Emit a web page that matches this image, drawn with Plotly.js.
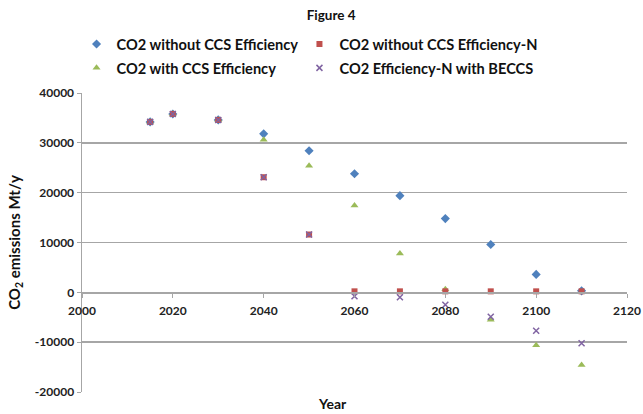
<!DOCTYPE html>
<html><head><meta charset="utf-8">
<script src="https://cdn.plot.ly/plotly-3.0.1.min.js"></script>
<style>html,body{margin:0;padding:0;background:#fff;}#chart{width:643px;height:414px;}</style>
</head><body><div id="chart"></div>
<script>
const years = [2015, 2020, 2030, 2040, 2050, 2060, 2070, 2080, 2090, 2100, 2110];
const co2NoCCS = [34200, 35800, 34600, 31800, 28400, 23800, 19400, 14800, 9600, 3600, 300];
const co2NoCCSN = [34200, 35800, 34600, 23100, 11600, 200, 200, 200, 200, 200, 200];
const co2WithCCS = [34200, 35800, 34600, 30600, 25400, 17400, 7800, 600, -5500, -10600, -14600];
const co2BECCS = [34200, 35800, 34600, 23100, 11600, -800, -1000, -2500, -4900, -7700, -10200];
const seriesNames = ["CO2 without CCS Efficiency", "CO2 without CCS Efficiency-N", "CO2 with CCS Efficiency", "CO2 Efficiency-N with BECCS"];
const xTicks = [2000, 2020, 2040, 2060, 2080, 2100, 2120];
const yTicks = [-20000, -10000, 0, 10000, 20000, 30000, 40000];

const F = "Lato, 'Open Sans', sans-serif";
const traces = [
  {x: years, y: co2NoCCS, name: seriesNames[0], mode: "markers", type: "scatter", legend: "legend",
   marker: {symbol: "diamond", color: "#4F81BD", size: 7}},
  {x: years, y: co2WithCCS, name: seriesNames[2], mode: "markers", type: "scatter", legend: "legend3",
   marker: {symbol: "triangle-up", color: "#9BBB59", size: 7}},
  {x: years, y: co2NoCCSN, name: seriesNames[1], mode: "markers", type: "scatter", legend: "legend2",
   marker: {symbol: "square", color: "#C0504D", size: 6}},
  {x: years, y: co2BECCS, name: seriesNames[3], mode: "markers", type: "scatter", legend: "legend4",
   marker: {symbol: "x-thin", color: "#8064A2", size: 6, line: {color: "#8064A2", width: 1.5}}}
];
const legFont = {family: F, size: 14.6, color: "#111", weight: "bold"};
const legBase = {orientation: "h", xanchor: "left", yanchor: "middle", font: legFont, itemwidth: 30,
  bgcolor: "rgba(0,0,0,0)"};
const col1 = -0.01, col2 = 0.399, row1 = 1.164, row2 = 1.084;
const layout = {
  width: 643, height: 414,
  margin: {l: 82, r: 16, t: 93, b: 22},
  paper_bgcolor: "#fff", plot_bgcolor: "#fff",
  font: {family: F, size: 12, color: "#222"},
  title: {text: "<b>Figure 4</b>", x: 0.515, xanchor: "center", y: 0.962, yanchor: "middle", font: {family: F, size: 13.5, color: "#111"}},
  showlegend: true,
  legend: Object.assign({}, legBase, {x: col1, y: row1}),
  legend2: Object.assign({}, legBase, {x: col2, y: row1}),
  legend3: Object.assign({}, legBase, {x: col1, y: row2}),
  legend4: Object.assign({}, legBase, {x: col2, y: row2}),
  xaxis: {range: [2000, 2120], tickvals: xTicks, ticktext: xTicks.map(String),
    anchor: "free", position: 1/3, showgrid: false, zeroline: false,
    showline: true, linecolor: "#a6a6a6", linewidth: 1.5,
    ticks: "outside", ticklen: 4, tickcolor: "#a6a6a6", ticklabelstandoff: 3,
    tickfont: {family: F, size: 12, color: "#222", weight: "bold"}},
  yaxis: {range: [-20000, 40000], tickvals: yTicks, ticktext: yTicks.map(String),
    showgrid: true, gridcolor: "#a6a6a6", gridwidth: 1.5, zeroline: false,
    showline: true, linecolor: "#a6a6a6", linewidth: 1.5,
    ticks: "outside", ticklen: 4, tickcolor: "#a6a6a6",
    tickfont: {family: F, size: 12, color: "#222", weight: "bold"},
    title: {text: "<b>CO<sub>2</sub> emissions Mt/y</b>", standoff: 10, font: {family: F, size: 15, color: "#111"}}},
  annotations: [{text: "<b>Year</b>", xref: "paper", yref: "paper", x: 0.46, y: -0.04, xanchor: "center", yanchor: "middle", showarrow: false, font: {family: F, size: 14, color: "#111"}}]
};
Plotly.newPlot("chart", traces, layout, {displayModeBar: false, staticPlot: true});
</script></body></html>
